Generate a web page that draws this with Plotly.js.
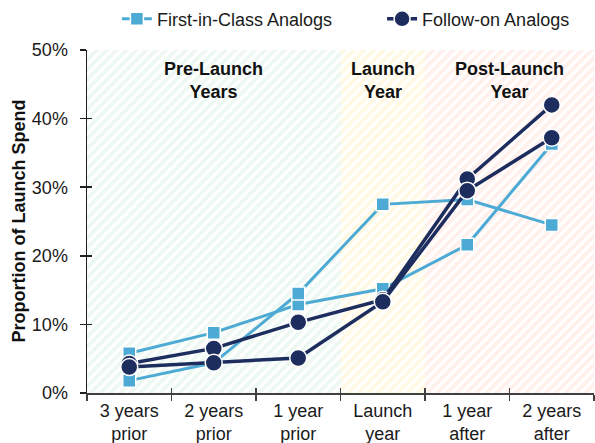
<!DOCTYPE html>
<html>
<head>
<meta charset="utf-8">
<script src="https://cdn.plot.ly/plotly-3.0.1.min.js"></script>
<style>
  html, body { margin: 0; padding: 0; background: #ffffff; }
  #chart { width: 595px; height: 443px; }
</style>
</head>
<body>
<div id="chart"></div>
<script>
// ---- data ----
const categories = ['3 years<br>prior', '2 years<br>prior', '1 year<br>prior', 'Launch<br>year', '1 year<br>after', '2 years<br>after'];
const firstInClassA = [5.8, 8.8, 12.9, 15.2, 21.6, 36.3];
const firstInClassB = [1.8, 4.4, 14.5, 27.5, 28.2, 24.5];
const followOnA = [4.3, 6.5, 10.3, 13.6, 31.2, 42.0];
const followOnB = [3.8, 4.4, 5.1, 13.3, 29.5, 37.2];
const categoryRegion = [0, 0, 0, 1, 2, 2];
const regionLabels = ['Pre-Launch<br>Years', 'Launch<br>Year', 'Post-Launch<br>Year'];
const yTicks = [0, 10, 20, 30, 40, 50];
const yTickText = yTicks.map(v => v + '%');
const yTitle = 'Proportion of Launch Spend';

// ---- styles ----
const blue = '#4daad4';
const navy = '#1d2d5e';
const regionStripe = ['#9dd5b6', '#f7d977', '#f2ab9c'];
const regionBg = ['#eef8f2', '#fff9e3', '#fff0ec'];
const yMax = 50;
const font = 'Arial, "Liberation Sans", sans-serif';

const bgTrace = {
  type: 'bar',
  x: categories,
  y: categories.map(() => yMax),
  marker: {
    color: categoryRegion.map(r => regionBg[r]),
    line: { width: 0 },
    pattern: {
      shape: '/',
      size: 7,
      solidity: 0.55,
      fgopacity: 1,
      fgcolor: categoryRegion.map(r => regionStripe[r]),
      bgcolor: categoryRegion.map(r => regionBg[r]),
      fillmode: 'replace'
    }
  },
  hoverinfo: 'skip',
  showlegend: false
};

function lineTrace(y, color, symbol, size, width, name, showlegend, legendId) {
  return {
    type: 'scatter', mode: 'lines+markers',
    x: categories, y: y, name: name, legendgroup: name, showlegend: showlegend, legend: legendId,
    line: { color: color, width: width },
    marker: { color: color, symbol: symbol, size: size, line: { color: '#ffffff', width: 1.5 } }
  };
}

const traces = [
  bgTrace,
  lineTrace(firstInClassA, blue, 'square', 13, 3, 'First-in-Class Analogs', true, 'legend'),
  lineTrace(firstInClassB, blue, 'square', 13, 3, 'First-in-Class Analogs', false, 'legend'),
  lineTrace(followOnA, navy, 'circle', 17, 3.5, 'Follow-on Analogs', true, 'legend2'),
  lineTrace(followOnB, navy, 'circle', 17, 3.5, 'Follow-on Analogs', false, 'legend2'),
  { type: 'scatter', x: [], y: [], xaxis: 'x2', yaxis: 'y2', showlegend: false, hoverinfo: 'skip' }
];

// region label centres from category membership
const annotations = regionLabels.map((txt, r) => {
  const idx = categoryRegion.map((v, i) => v === r ? i : null).filter(v => v !== null);
  const c = idx.reduce((a, b) => a + b, 0) / idx.length;
  return {
    x: c, y: 45.6, xref: 'x', yref: 'y', text: txt, showarrow: false,
    font: { family: font, size: 18, color: '#111111', weight: 'bold' },
    xanchor: 'center', yanchor: 'middle'
  };
});
annotations.push({
  x: -0.136, y: 0.5, xref: 'paper', yref: 'paper', text: yTitle, showarrow: false,
  textangle: -90, xanchor: 'center', yanchor: 'middle',
  font: { family: font, size: 18, color: '#111111', weight: 'bold' }
});

const legendBase = {
  orientation: 'h', xanchor: 'left', y: 1.09, yanchor: 'middle',
  font: { family: font, size: 18, color: '#1a1a1a' }, itemwidth: 30, bgcolor: 'rgba(0,0,0,0)'
};

const n = categories.length;
const layout = {
  width: 595, height: 443,
  margin: { l: 87, r: 1, t: 48, b: 50 },
  paper_bgcolor: '#ffffff', plot_bgcolor: '#ffffff',
  font: { family: font, size: 18, color: '#1a1a1a' },
  bargap: 0,
  showlegend: true,
  legend: Object.assign({}, legendBase, { x: 0.059 }),
  legend2: Object.assign({}, legendBase, { x: 0.582 }),
  xaxis: {
    type: 'category', range: [-0.5, n - 0.5],
    showgrid: false, zeroline: false,
    showline: true, linecolor: '#404040', linewidth: 2,
    ticks: 'outside', tickson: 'boundaries', ticklen: 6, tickwidth: 1.5, tickcolor: '#404040',
    tickfont: { family: font, size: 18, color: '#1a1a1a' }
  },
  yaxis: {
    range: [0, yMax], tickvals: yTicks, ticktext: yTickText,
    showgrid: false, zeroline: false,
    showline: true, linecolor: '#202020', linewidth: 1.5,
    ticks: 'outside', ticklen: 6, tickwidth: 1.5, tickcolor: '#202020',
    ticklabelstandoff: 8,
    tickfont: { family: font, size: 18, color: '#1a1a1a' }
  },
  xaxis2: {
    overlaying: 'x', range: [-0.5, n - 0.5], tickvals: categories.map((c, i) => i - 0.5).concat([n - 0.5]),
    showticklabels: false, ticks: 'inside', ticklen: 5, tickwidth: 1.5, tickcolor: '#404040',
    showgrid: false, zeroline: false, showline: false, side: 'bottom'
  },
  yaxis2: {
    overlaying: 'y', range: [0, yMax], tickvals: yTicks,
    showticklabels: false, ticks: 'inside', ticklen: 5, tickwidth: 1.5, tickcolor: '#202020',
    showgrid: false, zeroline: false, showline: false, side: 'left'
  },
  annotations: annotations,
  hovermode: false
};

Plotly.newPlot('chart', traces, layout, { staticPlot: true, displayModeBar: false });
</script>
</body>
</html>
